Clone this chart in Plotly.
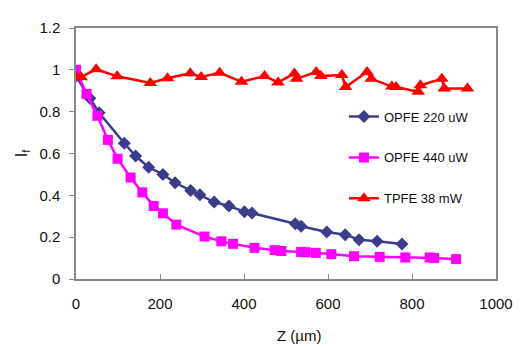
import plotly.graph_objects as go

z_220 = [0, 33, 55, 115, 142, 173, 207, 236, 273, 295, 329, 364, 401, 419, 522, 536, 597, 641, 674, 717, 776]
i_220 = [0.97, 0.864, 0.795, 0.649, 0.588, 0.534, 0.500, 0.460, 0.423, 0.403, 0.368, 0.349, 0.322, 0.315, 0.264, 0.252, 0.225, 0.212, 0.188, 0.181, 0.167]

z_440 = [0, 25, 51, 76, 99, 130, 158, 185, 207, 239, 306, 346, 374, 425, 473, 489, 536, 547, 571, 608, 662, 723, 784, 842, 853, 905]
i_440 = [1.0, 0.885, 0.78, 0.665, 0.575, 0.485, 0.414, 0.349, 0.314, 0.26, 0.203, 0.18, 0.168, 0.149, 0.138, 0.134, 0.129, 0.128, 0.125, 0.119, 0.109, 0.106, 0.103, 0.103, 0.1, 0.095]

z_tpfe = [0, 12, 48, 98, 177, 218, 272, 298, 342, 394, 449, 481, 520, 525, 572, 583, 633, 642, 693, 703, 752, 762, 815, 820, 871, 877, 932]
i_tpfe = [0.965, 0.965, 1.003, 0.969, 0.937, 0.96, 0.984, 0.966, 0.986, 0.943, 0.97, 0.94, 0.982, 0.957, 0.99, 0.97, 0.975, 0.918, 0.99, 0.957, 0.92, 0.918, 0.895, 0.926, 0.957, 0.911, 0.911]

names = ["OPFE 220 uW", "OPFE 440 uW", "TPFE 38 mW"]
x_ticks = [0, 200, 400, 600, 800, 1000]
y_ticks = [0, 0.2, 0.4, 0.6, 0.8, 1, 1.2]
y_tick_text = ["0", "0.2", "0.4", "0.6", "0.8", "1", "1.2"]

fig = go.Figure()
fig.add_trace(go.Scatter(x=z_220, y=i_220, name=names[0], mode="lines+markers",
                         line=dict(color="#3C3C8C", width=2.5),
                         marker=dict(symbol="diamond", size=10, color="#3C3C8C"),
                         legendgroup="a"))
fig.add_trace(go.Scatter(x=z_440, y=i_440, name=names[1], mode="lines+markers",
                         line=dict(color="#FF00FF", width=2.5),
                         marker=dict(symbol="square", size=10, color="#FF00FF"),
                         legendgroup="b"))
fig.add_trace(go.Scatter(x=z_tpfe, y=i_tpfe, name=names[2], mode="lines+markers",
                         line=dict(color="#FF0000", width=2.5),
                         marker=dict(symbol="triangle-up", size=12, color="#FF0000"),
                         legendgroup="c"))

font_family = "Liberation Sans, Arial, sans-serif"
fig.update_layout(
    width=516, height=339,
    margin=dict(l=68, r=21, t=11, b=68),
    plot_bgcolor="white", paper_bgcolor="white",
    font=dict(family=font_family, color="#111111", size=15),
    showlegend=True,
    legend=dict(x=0.638, y=0.707, xanchor="left", yanchor="top",
                font=dict(size=13, color="#111111"),
                bgcolor="rgba(0,0,0,0)", tracegroupgap=21,
                itemwidth=30),
    xaxis=dict(range=[0, 1000], tickvals=x_ticks, ticks="inside", ticklen=5,
               tickcolor="#888888", showline=True, linecolor="#888888", linewidth=1.5,
               mirror=True, showgrid=False, zeroline=False,
               tickfont=dict(size=15), ticklabelstandoff=10),
    yaxis=dict(range=[0, 1.2], tickvals=y_ticks, ticktext=y_tick_text, ticks="outside",
               ticklen=5, tickcolor="#888888", showline=True, linecolor="#888888",
               linewidth=1.5, mirror=True, showgrid=False, zeroline=False,
               tickfont=dict(size=15), ticklabelstandoff=6,
               title=dict(text="I<sub>f</sub>", font=dict(size=16), standoff=8)),
    annotations=[dict(text="Z (µm)", xref="paper", yref="paper", x=0.532, y=-0.225,
                      xanchor="center", yanchor="middle", showarrow=False,
                      font=dict(size=15, color="#111111"))],
)

fig.write_html("out.html")
